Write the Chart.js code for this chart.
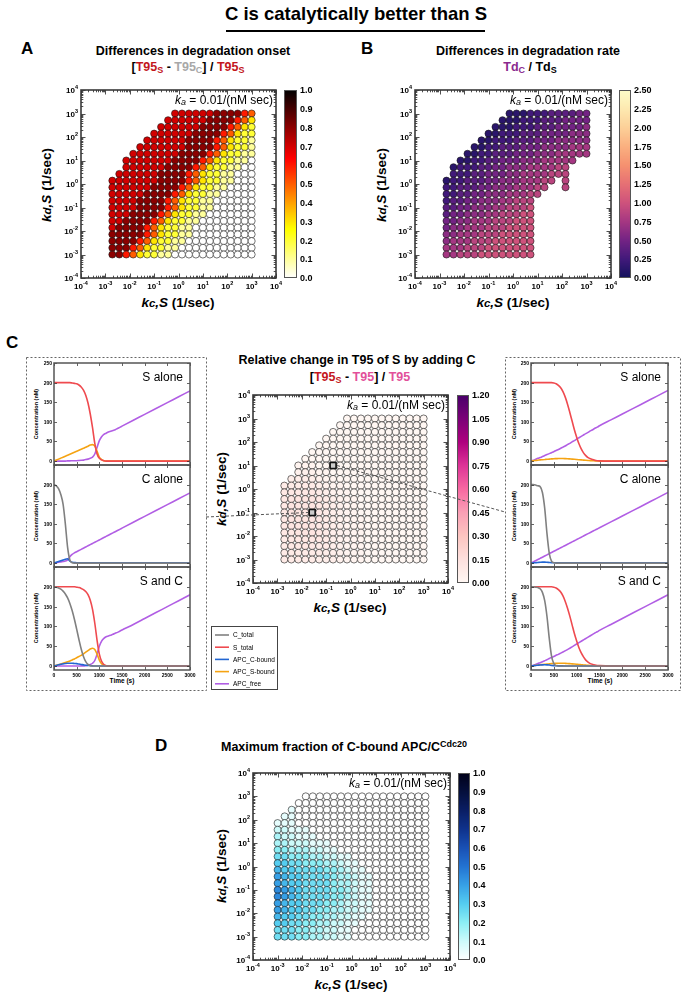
<!DOCTYPE html>
<html><head><meta charset="utf-8">
<script src="https://cdn.jsdelivr.net/npm/chart.js@4.4.1/dist/chart.umd.min.js"></script>
<style>
html,body{margin:0;padding:0;background:#fff}
body{width:684px;height:992px;position:relative;overflow:hidden;font-family:"Liberation Sans",Arial,Helvetica,sans-serif;color:#000}
.t{position:absolute;white-space:nowrap;font-weight:bold;line-height:1}
.cx{transform:translateX(-50%)}
.rot{transform:translate(-50%,-50%) rotate(-90deg)}
canvas{position:absolute}
.sb{font-size:72%;vertical-align:-0.22em;line-height:0}
.sp{font-size:72%;vertical-align:0.5em;line-height:0}
</style></head><body>
<div class="t cx" style="left:356px;top:5px;font-size:18.5px">C is catalytically better than S</div>
<div style="position:absolute;left:226px;top:30px;width:259px;height:2px;background:#000"></div>

<div class="t" style="left:21px;top:40px;font-size:17px">A</div>
<div class="t cx" style="left:193px;top:45px;font-size:12.5px">Differences in degradation onset</div>
<div class="t cx" style="left:188px;top:61px;font-size:12.5px">[<span style="color:#c3161c">T95<span class="sb">S</span></span> - <span style="color:#a8a8a8">T95<span class="sb">C</span></span>] / <span style="color:#c3161c">T95<span class="sb">S</span></span></div>
<div class="t" style="left:361px;top:40px;font-size:17px">B</div>
<div class="t cx" style="left:528px;top:45px;font-size:12.5px">Differences in degradation rate</div>
<div class="t cx" style="left:530px;top:61px;font-size:12.5px"><span style="color:#8a2a8e">Td<span class="sb">C</span></span> / Td<span class="sb">S</span></div>

<div class="t" style="left:6px;top:334px;font-size:17px">C</div>
<div class="t cx" style="left:357px;top:354px;font-size:12.5px">Relative change in T95 of S by adding C</div>
<div class="t cx" style="left:360px;top:371px;font-size:12.5px">[<span style="color:#c3161c">T95<span class="sb">S</span></span> - <span style="color:#e2509a">T95</span>] / <span style="color:#e2509a">T95</span></div>

<div class="t" style="left:155px;top:737px;font-size:17px">D</div>
<div class="t cx" style="left:344px;top:741px;font-size:12.5px">Maximum fraction of C-bound APC/C<span class="sp">Cdc20</span></div>

<div class="t cx" style="left:178px;top:296px;font-size:13.5px"><i>k</i><i style="font-size:85%">c</i><i>,S</i> (1/sec)</div>
<div class="t cx" style="left:513px;top:296px;font-size:13.5px"><i>k</i><i style="font-size:85%">c</i><i>,S</i> (1/sec)</div>
<div class="t cx" style="left:350px;top:601px;font-size:13.5px"><i>k</i><i style="font-size:85%">c</i><i>,S</i> (1/sec)</div>
<div class="t cx" style="left:351px;top:978px;font-size:13.5px"><i>k</i><i style="font-size:85%">c</i><i>,S</i> (1/sec)</div>
<div class="t rot" style="left:47px;top:185px;font-size:13.5px"><i>k</i><i style="font-size:85%">d</i><i>,S</i> (1/sec)</div>
<div class="t rot" style="left:382px;top:185px;font-size:13.5px"><i>k</i><i style="font-size:85%">d</i><i>,S</i> (1/sec)</div>
<div class="t rot" style="left:222px;top:489px;font-size:13.5px"><i>k</i><i style="font-size:85%">d</i><i>,S</i> (1/sec)</div>
<div class="t rot" style="left:222px;top:866px;font-size:13.5px"><i>k</i><i style="font-size:85%">d</i><i>,S</i> (1/sec)</div>

<div class="t rot" style="left:37px;top:414px;font-size:5.5px">Concentration (nM)</div>
<div class="t rot" style="left:37px;top:516px;font-size:5.5px">Concentration (nM)</div>
<div class="t rot" style="left:37px;top:618px;font-size:5.5px">Concentration (nM)</div>
<div class="t rot" style="left:515px;top:414px;font-size:5.5px">Concentration (nM)</div>
<div class="t rot" style="left:515px;top:516px;font-size:5.5px">Concentration (nM)</div>
<div class="t rot" style="left:515px;top:618px;font-size:5.5px">Concentration (nM)</div>
<div class="t cx" style="left:122px;top:678px;font-size:6.5px">Time (s)</div>
<div class="t cx" style="left:600px;top:678px;font-size:6.5px">Time (s)</div>

<script>
// ---------- grid coordinates (1/sec) ----------
const kcValues = [0.001,0.00193,0.00373,0.0072,0.0139,0.0268,0.0518,0.1,0.193,0.373,0.72,1.39,2.68,5.18,10,19.3,37.3,72,139,268,518,1000];
const kdValues = [0.001,0.00193,0.00373,0.0072,0.0139,0.0268,0.0518,0.1,0.193,0.373,0.72,1.39,2.68,5.18,10,19.3,37.3,72,139,268,518,1000];
const logExponents = [-4,-3,-2,-1,0,1,2,3,4];

// Rows from top (kd=1000) to bottom (kd=0.001); one char per kc column; '.' = no simulation
// A: [T95S - T95C]/T95S, digit x 0.1
const onsetStep = 0.1;
const onsetRows = [
"..........777777888865",
".........7777778888653",
"........77777788886532",
".......777777888865322",
"......7777778888653221",
".....77777778888653221",
"....777777788886532211",
"...7777777888865322110",
"...7777778888653221100",
"..77777788886532211000",
".777777788886532211000",
".777777888865322110000",
".777778888653221100000",
".777788886532211000000",
".777788886532211000000",
".777888865322110000000",
".778888653221100000000",
".788886532211000000000",
".888886532211000000000",
".888865322110000000000",
".888653221100000000000",
".886532211000000000000"];
// B: TdC/TdS, digit x 0.125
const rateStep = 0.125;
const rateRows = [
"..........111222333344",
".........1112223334444",
"........11122233344445",
".......112223334444555",
"......1122233344455555",
".....11223334445555666",
"....112233344455566666",
"...11223344455566666..",
"..12223344555666677...",
"..22233444556666777...",
".1223334455566677.7...",
".223334455566677..7...",
".22334455566677.......",
".2334455566777........",
".3344555667778........",
".3445556677788........",
".4455666777888........",
".4556667778888........",
".5566677788888........",
".5666777888888........",
".6667778888888........",
".6677788888888........"];
// C: relative change in T95 of S, digit x 0.02
const relStep = 0.02;
const relRows = [
"..........000000000000",
".........0000000000000",
"........00000000000000",
".......000000000000000",
"......0000000000000000",
".....00000000000000000",
"....000000000000000000",
"...1110000000000000000",
"...2221100000000000000",
"..33332110000000000000",
".444443211000000000000",
".555554321100000000000",
".566665432110000000000",
".566665432110000000000",
".566665432110000000000",
".566665432111000000000",
".566665432111000000000",
".556665432111000000000",
".455555432111000000000",
".455554432111000000000",
".444444332111000000000",
".444443332111000000000"];
// D: maximum fraction of C-bound APC/C, digit x 0.05
const fracStep = 0.05;
const fracRows = [
"....000000000000000000",
"...0000000000000000000",
"..10000000000000000000",
".110000000000000000000",
"1110000000000000000000",
"2211100000000000000000",
"3221110000000000000000",
"3322211100000000000000",
"4433322110000000000000",
"5544433221100000000000",
"6655444332110000000000",
"7665555443211000000000",
"8766555543321100000000",
"8766555543321100000000",
"9876555544321100000000",
"9876555544321100000000",
"8766555443221100000000",
"8766554433221100000000",
"7665544332211000000000",
"6655443322110000000000",
"5554433221100000000000",
"5554433221100000000000"];
const markerKc = [kcValues[5], kcValues[8]];
const markerKd = [kdValues[7], kdValues[14]];

const cbTicksA = [0,0.1,0.2,0.3,0.4,0.5,0.6,0.7,0.8,0.9,1.0];
const cbTicksB = [0,0.25,0.5,0.75,1.0,1.25,1.5,1.75,2.0,2.25,2.5];
const cbTicksC = [0,0.15,0.3,0.45,0.6,0.75,0.9,1.05,1.2];
const cbTicksD = [0,0.1,0.2,0.3,0.4,0.5,0.6,0.7,0.8,0.9,1.0];

// ---------- time courses (s, nM) ----------
const time = [0,50,100,150,200,250,300,350,400,450,500,550,600,650,700,750,800,850,900,950,1000,1050,1100,1150,1200,1250,1300,1350,1400,1450,1500,1750,2000,2250,2500,2750,3000];
const timeTicks = [0,500,1000,1500,2000,2500,3000];
const concTicks = [0,50,100,150,200,250];
// left (kc,S ~ 0.027, kd,S ~ 0.1)
const L1_S = [200,200,200,200,200,200,200,200,199,198,197,194,189,181,168,148,120,85,45,18,7,3,1,0,0,0,0,0,0,0,0,0,0,0,0,0,0];
const L1_AS = [0,2.5,5,7.5,10,12.5,15,17.5,20,22.5,25,27.5,30,32.5,35,38,41,42,38,25,10,4,1,0,0,0,0,0,0,0,0,0,0,0,0,0,0];
const L1_F = [0,0,0,0,0,0,0.5,0.5,1,1,1,1.5,2,2.5,4,5,7,10,18,35,52,62,68,71,74,76,78,80,83,86,89,104,119,134,149,164,179];
const L2_C = [200,197,190,175,150,100,40,8,1,0,0,0,0,0,0,0,0,0,0,0,0,0,0,0,0,0,0,0,0,0,0,0,0,0,0,0,0];
const L2_AC = [0,2,4,6,8,10,11,5,2,1.5,1,1,1,1,1,1,1,1,1,1,1,1,1,1,1,1,1,1,1,1,1,1,1,1,1,1,1];
const L2_F = [0,1,2,3,4,5,8,16,22,26,29,32,35,38,41,44,47,50,53,56,59,62,65,68,71,74,77,80,83,86,89,104,119,134,149,164,179];
const L3_C = [200,199,197,194,189,182,172,158,140,118,93,67,43,24,11,4,1,0,0,0,0,0,0,0,0,0,0,0,0,0,0,0,0,0,0,0,0];
const L3_S = [200,200,200,200,200,200,200,200,200,200,199,198,196,193,188,180,166,143,108,65,30,12,4,1,0,0,0,0,0,0,0,0,0,0,0,0,0];
const L3_AS = [0,2,3.5,5,7,9,11,13,15.5,18,21,24,27,31,35,39,43,45,42,30,15,6,2,0.5,0,0,0,0,0,0,0,0,0,0,0,0,0];
const L3_AC = [0,1.5,3,4.5,5.5,6.5,7,7,7,6.5,6,5,4,3,2,1.5,1,0.5,0,0,0,0,0,0,0,0,0,0,0,0,0,0,0,0,0,0,0];
const L3_F = [0,0,0,0,0,0,0,0,0,0,0,0,0.5,0.5,1,2,4,7,14,30,50,63,70,74,76,78,80,83,85,88,91,105,120,135,150,165,180];
// right (kc,S ~ 0.19, kd,S ~ 10)
const R1_S = [200,200,200,200,200,200,200,200,200,200,199,197,193,187,177,163,145,124,102,80,61,44,31,21,14,9,6,4,2,1,0.5,0,0,0,0,0,0];
const R1_AS = [0,0.8,1.5,2.2,3,3.5,4,4.5,5,5.5,6,6.2,6.5,6.5,6.5,6.3,6,5.5,5,4.5,4,3.5,3,2.5,2,1.5,1,0.8,0.5,0.3,0,0,0,0,0,0,0];
const R1_F = [0,2,4.5,7,9,11.5,14,16.5,19,21.5,24,27,29.5,32.5,35.5,38.5,42,45,49,52,56,59.5,63,66.5,70,73,77,80,83.5,86.5,90,105,120,135,150,165,180];
const R2_C = [200,200,199,197,195,180,140,75,25,5,1,0,0,0,0,0,0,0,0,0,0,0,0,0,0,0,0,0,0,0,0,0,0,0,0,0,0];
const R2_AC = [0,0.5,1,1.5,2,2.5,2.5,2,1.5,1,1,1,1,1,1,1,1,1,1,1,1,1,1,1,1,1,1,1,1,1,1,1,1,1,1,1,1];
const R2_F = [0,3,6,9,12,15,18,21,24,27,30,33,36,39,42,45,48,51,54,57,60,63,66,69,72,75,78,81,84,87,90,105,120,135,150,165,180];
const R3_C = [200,200,199,198,195,186,165,125,70,25,6,1,0,0,0,0,0,0,0,0,0,0,0,0,0,0,0,0,0,0,0,0,0,0,0,0,0];
const R3_S = [200,200,200,200,200,200,200,200,200,200,199,197,193,187,177,163,146,126,104,82,63,46,33,23,15,10,6,4,2.5,1.5,1,0,0,0,0,0,0];
const R3_AS = [0,0.8,1.6,2.4,3.2,3.8,4.4,5,5.5,6,6.4,6.7,7,7,7,6.8,6.5,6,5.5,5,4.5,4,3.4,2.8,2.2,1.6,1.1,0.8,0.5,0.3,0,0,0,0,0,0,0];
const R3_AC = [0,0.7,1.4,2,2.6,3,3.2,3,2.5,1.5,1,0.7,0.5,0.4,0.3,0.2,0.2,0.2,0.2,0.2,0.2,0.2,0.2,0.2,0.2,0.2,0.2,0.2,0.2,0.2,0.2,0.2,0.2,0.2,0.2,0.2,0.2];
const R3_F = [0,2,4,6.5,8.5,11,13.5,16,19,21.5,24,27,29.5,32.5,35.5,38.5,41.5,45,48.5,52,55.5,59,62.5,66,69.5,73,76.5,80,83.5,86.5,90,105,120,135,150,165,180];

const seriesNames = ['C_total','S_total','APC_C-bound','APC_S-bound','APC_free'];
const seriesColors = ['#808080','#ef4a4f','#2266d2','#f5a312','#b15ee4'];

// ---------- colormaps ----------
const FONT = '"Liberation Sans", Arial, sans-serif';
function stopsMap(stops){
  return t=>{ t=Math.max(0,Math.min(1,t));
    for(let i=1;i<stops.length;i++){ if(t<=stops[i][0]){ const a=stops[i-1],b=stops[i]; const f=(t-a[0])/(b[0]-a[0]||1);
      return 'rgb('+[1,2,3].map(j=>Math.round(a[j]+(b[j]-a[j])*f)).join(',')+')'; } }
    const l=stops[stops.length-1]; return `rgb(${l[1]},${l[2]},${l[3]})`; };
}
function hotR(t){ const x=1-Math.max(0,Math.min(1,t));
  const r=Math.min(1,x/0.365), g=Math.max(0,Math.min(1,(x-0.365)/0.375)), b=Math.max(0,Math.min(1,(x-0.746)/0.254));
  return `rgb(${Math.round(r*255)},${Math.round(g*255)},${Math.round(b*255)})`; }
const cmapB = stopsMap([[0,18,18,92],[0.1,65,25,122],[0.2,115,35,132],[0.3,165,55,130],[0.4,206,82,124],[0.5,230,112,116],[0.6,245,145,112],[0.7,250,176,128],[0.8,252,208,152],[0.9,253,233,176],[1,253,253,200]]);
const cmapC = stopsMap([[0,255,247,243],[0.125,253,224,221],[0.25,252,197,192],[0.375,250,159,181],[0.5,247,104,161],[0.625,221,52,151],[0.75,174,1,126],[0.875,122,1,119],[1,73,0,106]]);
const cmapD = stopsMap([[0,255,255,255],[0.1,205,250,250],[0.2,140,238,245],[0.3,85,205,240],[0.4,55,160,230],[0.5,35,115,210],[0.6,25,80,180],[0.7,15,50,140],[0.8,10,30,100],[0.9,5,15,60],[1,0,0,25]]);

function gridPoints(rows, step){
  const pts=[]; const n=rows.length;
  rows.forEach((s,i)=>{ const kd=kdValues[n-1-i];
    for(let k=0;k<s.length;k++){ const ch=s[k]; if(ch==='.') continue; pts.push({x:kcValues[k], y:kd, v:(+ch)*step}); } });
  return pts;
}
function mkCanvas(x,y,w,h,z){ const c=document.createElement('canvas'); c.width=w; c.height=h;
  c.style.left=x+'px'; c.style.top=y+'px'; c.style.width=w+'px'; c.style.height=h+'px'; if(z) c.style.zIndex=z;
  document.body.appendChild(c); return c; }

function powLabel(ctx,x,y,e,mode){
  const b='10', s=String(e);
  ctx.font='bold 8px '+FONT; const w1=ctx.measureText(b).width;
  ctx.font='bold 5.5px '+FONT; const w2=ctx.measureText(s).width;
  const tot=w1+w2; let lx,base;
  if(mode==='x'){ lx=x-tot/2; base=y+8; } else { lx=x-tot; base=y+3; }
  ctx.fillStyle='#000'; ctx.textAlign='left'; ctx.textBaseline='alphabetic';
  ctx.font='bold 8px '+FONT; ctx.fillText(b,lx,base);
  ctx.font='bold 5.5px '+FONT; ctx.fillText(s,lx+w1,base-4);
}
function kaLabel(ctx,right,base){
  const rest=' = 0.01/(nM sec)';
  ctx.font='12px '+FONT; const wr=ctx.measureText(rest).width;
  ctx.font='italic 12px '+FONT; const wk=ctx.measureText('k').width;
  ctx.font='italic 9px '+FONT; const wa=ctx.measureText('a').width;
  const x0=right-wr-wa-wk; ctx.fillStyle='#000'; ctx.textAlign='left';
  ctx.font='italic 12px '+FONT; ctx.fillText('k',x0,base);
  ctx.font='italic 9px '+FONT; ctx.fillText('a',x0+wk,base+1);
  ctx.font='12px '+FONT; ctx.fillText(rest,x0+wk+wa,base);
}
function heatPlugin(cfg){
  return {id:'heat', afterDatasetsDraw(chart){
    const ctx=chart.ctx, a=chart.chartArea, xs=chart.scales.x, ys=chart.scales.y;
    ctx.save();
    ctx.strokeStyle='#222'; ctx.lineWidth=0.8; ctx.beginPath();
    logExponents.forEach(e=>{ for(let m=1;m<=9;m++){ if(e===4&&m>1) break;
      const v=m*Math.pow(10,e), L=(m===1)?4.5:2.3;
      const px=Math.round(xs.getPixelForValue(v))+0.5, py=Math.round(ys.getPixelForValue(v))+0.5;
      ctx.moveTo(px,a.bottom); ctx.lineTo(px,a.bottom-L); ctx.moveTo(px,a.top); ctx.lineTo(px,a.top+L);
      ctx.moveTo(a.left,py); ctx.lineTo(a.left+L,py); ctx.moveTo(a.right,py); ctx.lineTo(a.right-L,py); } });
    ctx.stroke();
    ctx.lineWidth=1.6; ctx.strokeStyle='#3a3a3a'; ctx.strokeRect(a.left,a.top,a.right-a.left,a.bottom-a.top);
    logExponents.forEach(e=>{ powLabel(ctx,xs.getPixelForValue(Math.pow(10,e)),a.bottom+3,e,'x');
      powLabel(ctx,a.left-3,ys.getPixelForValue(Math.pow(10,e)),e,'y'); });
    kaLabel(ctx,a.right-3,a.top+14);
    const x0=a.right+cfg.gap, w=cfg.w, top=a.top, bot=a.bottom, H=bot-top;
    for(let i=0;i<H;i++){ ctx.fillStyle=cfg.cmap(1-(i+0.5)/H); ctx.fillRect(x0,top+i,w,1); }
    ctx.strokeStyle='#555'; ctx.lineWidth=1; ctx.strokeRect(x0+0.5,top+0.5,w-1,H-1);
    ctx.fillStyle='#000'; ctx.font='bold 9px '+FONT; ctx.textAlign='left';
    cfg.ticks.forEach(v=>{ const py=bot-(v/cfg.vmax)*H; ctx.fillText(v.toFixed(cfg.dec),x0+w+3,py+3.2); });
    ctx.restore();
  }};
}
function heatChart(box,area,pts,cmap,vmax,cb,extra){
  const cv=mkCanvas(box[0],box[1],box[2],box[3]);
  const pad={left:area[0]-box[0], top:area[1]-box[1], right:box[0]+box[2]-area[2], bottom:box[1]+box[3]-area[3]};
  const ds=[{data:pts, pointRadius:3.55, pointHoverRadius:3.55, pointBorderWidth:0.7, pointBorderColor:'rgba(20,20,20,0.85)',
    pointBackgroundColor:c=>cmap(c.raw.v/vmax)}];
  const chart=new Chart(cv,{type:'scatter', data:{datasets:(extra||[]).concat(ds)},
    options:{responsive:false, animation:false, events:[], layout:{padding:pad},
      plugins:{legend:{display:false}, tooltip:{enabled:false}},
      scales:{x:{type:'logarithmic',min:1e-4,max:1e4,display:false}, y:{type:'logarithmic',min:1e-4,max:1e4,display:false}}},
    plugins:[heatPlugin(Object.assign({cmap:c=>cmap(c),vmax},cb))]});
  return {chart, cv, box};
}

heatChart([40,80,300,220],[81,90,276,278],gridPoints(onsetRows,onsetStep),hotR,1.0,{gap:8,w:13,ticks:cbTicksA,dec:1});
heatChart([375,80,309,220],[415,90,611,278],gridPoints(rateRows,rateStep),cmapB,2.5,{gap:8,w:12,ticks:cbTicksB,dec:2});
const markerDs={data:markerKc.map((x,i)=>({x,y:markerKd[i]})), pointStyle:'rect', pointRadius:4.2, pointBorderWidth:1.6,
  pointBorderColor:'#111', pointBackgroundColor:'rgba(200,200,200,0.9)'};
const cC=heatChart([215,385,285,215],[253,395,448,583],gridPoints(relRows,relStep),cmapC,1.2,{gap:9,w:12,ticks:cbTicksC,dec:2},[markerDs]);
heatChart([215,763,285,212],[253,773,450,960],gridPoints(fracRows,fracStep),cmapD,1.0,{gap:8,w:12,ticks:cbTicksD,dec:1});

// ---------- time courses ----------
function tsPlugin(cfg){
  return {id:'ts', afterDatasetsDraw(chart){
    const ctx=chart.ctx, a=chart.chartArea, xs=chart.scales.x, ys=chart.scales.y;
    ctx.save(); ctx.strokeStyle='#222'; ctx.lineWidth=0.7; ctx.beginPath();
    timeTicks.forEach(t=>{ const px=Math.round(xs.getPixelForValue(t))+0.5;
      ctx.moveTo(px,a.bottom); ctx.lineTo(px,a.bottom-3); ctx.moveTo(px,a.top); ctx.lineTo(px,a.top+3); });
    concTicks.forEach(c=>{ const py=Math.round(ys.getPixelForValue(c))+0.5;
      ctx.moveTo(a.left,py); ctx.lineTo(a.left+3,py); ctx.moveTo(a.right,py); ctx.lineTo(a.right-3,py); });
    ctx.stroke();
    ctx.lineWidth=1.5; ctx.strokeStyle='#555'; ctx.strokeRect(a.left,a.top,a.right-a.left,a.bottom-a.top);
    ctx.fillStyle='#000'; ctx.font='bold 5px '+FONT; ctx.textAlign='right';
    concTicks.forEach(c=>{ if(c===250 && !cfg.top) return; ctx.fillText(String(c),a.left-2,ys.getPixelForValue(c)+2); });
    if(cfg.bottom){ ctx.textAlign='center'; timeTicks.forEach(t=>ctx.fillText(String(t),xs.getPixelForValue(t),a.bottom+7)); }
    ctx.font='12px '+FONT; ctx.textAlign='right'; ctx.fillText(cfg.label,a.right-7,a.top+18);
    ctx.restore();
  }};
}
function tsChart(area,series,cfg){
  const box=[area[0]-26,area[1]-4,area[2]-area[0]+32,area[3]-area[1]+16];
  const cv=mkCanvas(box[0],box[1],box[2],box[3]);
  const pad={left:26,top:4,right:6,bottom:12};
  new Chart(cv,{type:'line', data:{datasets:series.map(s=>({data:time.map((t,i)=>({x:t,y:s[1][i]})), borderColor:seriesColors[s[0]],
      borderWidth:1.6, pointRadius:0, fill:false, cubicInterpolationMode:'monotone'}))},
    options:{responsive:false, animation:false, events:[], layout:{padding:pad}, parsing:false,
      plugins:{legend:{display:false}, tooltip:{enabled:false}},
      scales:{x:{type:'linear',min:0,max:3000,display:false}, y:{type:'linear',min:-10,max:250,display:false}}},
    plugins:[tsPlugin(cfg)]});
}
const rowsY=[[363,465],[465,567],[567,670]];
tsChart([54,rowsY[0][0],190,rowsY[0][1]],[[1,L1_S],[3,L1_AS],[4,L1_F]],{label:'S alone',top:true});
tsChart([54,rowsY[1][0],190,rowsY[1][1]],[[0,L2_C],[2,L2_AC],[4,L2_F]],{label:'C alone'});
tsChart([54,rowsY[2][0],190,rowsY[2][1]],[[0,L3_C],[1,L3_S],[2,L3_AC],[3,L3_AS],[4,L3_F]],{label:'S and C',bottom:true});
tsChart([531,rowsY[0][0],668,rowsY[0][1]],[[1,R1_S],[3,R1_AS],[4,R1_F]],{label:'S alone',top:true});
tsChart([531,rowsY[1][0],668,rowsY[1][1]],[[0,R2_C],[2,R2_AC],[4,R2_F]],{label:'C alone'});
tsChart([531,rowsY[2][0],668,rowsY[2][1]],[[0,R3_C],[1,R3_S],[2,R3_AC],[3,R3_AS],[4,R3_F]],{label:'S and C',bottom:true});

// ---------- overlay: boxes, connectors, legend ----------
const ov=mkCanvas(0,0,684,992,5); ov.style.pointerEvents='none';
const o=ov.getContext('2d');
o.strokeStyle='#666'; o.lineWidth=1; o.setLineDash([2,2]);
o.strokeRect(26.5,357.5,180,333); o.strokeRect(505.5,357.5,175,333);
const ch=cC.chart, xs=ch.scales.x, ys=ch.scales.y;
const m1=[cC.box[0]+xs.getPixelForValue(markerKc[0]), cC.box[1]+ys.getPixelForValue(markerKd[0])];
const m2=[cC.box[0]+xs.getPixelForValue(markerKc[1]), cC.box[1]+ys.getPixelForValue(markerKd[1])];
o.strokeStyle='#555'; o.setLineDash([3,2]); o.beginPath();
o.moveTo(206,517); o.lineTo(m1[0]-4,m1[1]); o.moveTo(m2[0]+4,m2[1]); o.lineTo(505,512); o.stroke();
o.setLineDash([]);
o.fillStyle='#fff'; o.fillRect(211,626,67,64); o.strokeStyle='#444'; o.lineWidth=1; o.strokeRect(211.5,626.5,66,63);
seriesNames.forEach((n,i)=>{ const y=635+i*12.2; o.strokeStyle=seriesColors[i]; o.lineWidth=1.6;
  o.beginPath(); o.moveTo(215,y); o.lineTo(229,y); o.stroke();
  o.fillStyle='#000'; o.font='6.5px '+FONT; o.textAlign='left'; o.fillText(n,233,y+2.3); });
</script>
</body></html>
